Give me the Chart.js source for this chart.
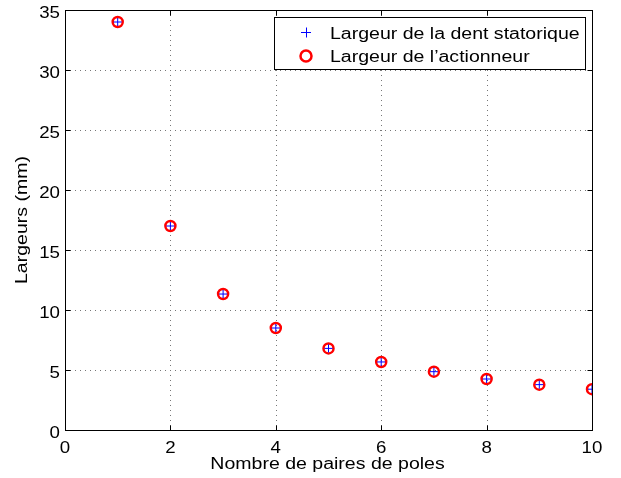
<!DOCTYPE html>
<html>
<head>
<meta charset="utf-8">
<script src="https://cdn.jsdelivr.net/npm/chart.js@4/dist/chart.umd.min.js"></script>
<style>
  html, body { margin: 0; padding: 0; background: #fff; }
  #wrap { width: 621px; height: 478px; }
</style>
</head>
<body>
<div id="wrap"><canvas id="chart"></canvas></div>
<script>
// Pole pairs and the resulting widths (mm)
const polePairs = [1, 2, 3, 4, 5, 6, 7, 8, 9, 10];
const toothWidth = [34, 17, 11.33, 8.5, 6.8, 5.67, 4.86, 4.25, 3.78, 3.4];
const actuatorWidth = [34, 17, 11.33, 8.5, 6.8, 5.67, 4.86, 4.25, 3.78, 3.4];
const xTicks = [0, 2, 4, 6, 8, 10];
const yTicks = [0, 5, 10, 15, 20, 25, 30, 35];
const xTitle = 'Nombre de paires de poles';
const yTitle = 'Largeurs (mm)';
const legendLabels = ['Largeur de la dent statorique', 'Largeur de l\u2019actionneur'];

const FONT = '"Liberation Sans", Arial, Helvetica, sans-serif';

// wide Helvetica-like text: regular glyphs stretched along the writing direction
function drawText(ctx, text, x, y, size, sx, align, angle) {
    ctx.save();
    ctx.translate(x, y);
    if (angle) ctx.rotate(angle);
    ctx.scale(sx, 1);
    ctx.font = size + 'px ' + FONT;
    ctx.fillStyle = '#000';
    ctx.textAlign = align;
    ctx.textBaseline = 'alphabetic';
    ctx.fillText(text, 0, 0);
    ctx.restore();
}

// dotted grid, box frame, inward ticks, labels and the boxed legend
const matlabAxes = {
    id: 'matlabAxes',
    beforeDatasetsDraw(chart) {
        const { ctx, chartArea: a, scales: { x, y } } = chart;
        ctx.save();
        ctx.strokeStyle = '#777';
        ctx.lineWidth = 1;
        ctx.setLineDash([1, 4]);
        xTicks.forEach(v => {
            const px = Math.round(x.getPixelForValue(v)) + 0.5;
            ctx.beginPath(); ctx.moveTo(px, a.top); ctx.lineTo(px, a.bottom); ctx.stroke();
        });
        yTicks.forEach(v => {
            const py = Math.round(y.getPixelForValue(v)) + 0.5;
            ctx.beginPath(); ctx.moveTo(a.left, py); ctx.lineTo(a.right, py); ctx.stroke();
        });
        ctx.setLineDash([]);
        ctx.strokeStyle = '#000';
        const L = Math.round(a.left) + 0.5, R = Math.round(a.right) + 0.5;
        const T = Math.round(a.top) + 0.5, B = Math.round(a.bottom) + 0.5;
        ctx.strokeRect(L, T, R - L, B - T);
        const tl = 5;
        ctx.beginPath();
        xTicks.forEach(v => {
            const px = Math.round(x.getPixelForValue(v)) + 0.5;
            ctx.moveTo(px, B); ctx.lineTo(px, B - tl);
            ctx.moveTo(px, T); ctx.lineTo(px, T + tl);
        });
        yTicks.forEach(v => {
            const py = Math.round(y.getPixelForValue(v)) + 0.5;
            ctx.moveTo(L, py); ctx.lineTo(L + tl, py);
            ctx.moveTo(R, py); ctx.lineTo(R - tl, py);
        });
        ctx.stroke();
        ctx.restore();

        // tick labels and axis titles
        xTicks.forEach(v => drawText(ctx, String(v), x.getPixelForValue(v), a.bottom + 23, 17, 1.1, 'center'));
        yTicks.forEach(v => drawText(ctx, String(v), a.left - 5, y.getPixelForValue(v) + 8, 17, 1.1, 'right'));
        drawText(ctx, xTitle, (a.left + a.right) / 2 - 1, 469, 16, 1.22, 'center');
        drawText(ctx, yTitle, 27, (a.top + a.bottom) / 2, 16, 1.22, 'center', -Math.PI / 2);
    },
    afterDatasetsDraw(chart) {
        const { ctx } = chart;
        ctx.save();
        const bx = 274.5, by = 17.5, bw = 311, bh = 52;
        ctx.fillStyle = '#fff';
        ctx.fillRect(bx, by, bw, bh);
        ctx.strokeStyle = '#000';
        ctx.lineWidth = 1;
        ctx.strokeRect(bx, by, bw, bh);
        // plus marker
        const mx = 306;
        ctx.strokeStyle = '#0000ff';
        ctx.beginPath();
        ctx.moveTo(mx - 5, 32.5); ctx.lineTo(mx + 5, 32.5);
        ctx.moveTo(mx + 0.5, 27.5); ctx.lineTo(mx + 0.5, 37.5);
        ctx.stroke();
        // circle marker
        ctx.strokeStyle = '#ff0000';
        ctx.lineWidth = 2.5;
        ctx.beginPath(); ctx.arc(mx, 56, 5.5, 0, Math.PI * 2); ctx.stroke();
        ctx.restore();
        drawText(ctx, legendLabels[0], 330, 38.5, 16, 1.22, 'left');
        drawText(ctx, legendLabels[1], 330, 61.5, 16, 1.22, 'left');
    }
};

new Chart(document.getElementById('chart'), {
    type: 'scatter',
    data: {
        datasets: [{
            label: legendLabels[0],
            data: polePairs.map((p, i) => ({ x: p, y: toothWidth[i] })),
            pointStyle: 'cross',
            pointRadius: 4,
            borderColor: '#0000ff',
            borderWidth: 1,
            order: 0
        }, {
            label: legendLabels[1],
            data: polePairs.map((p, i) => ({ x: p, y: actuatorWidth[i] })),
            pointStyle: 'circle',
            pointRadius: 5,
            borderColor: '#ff0000',
            backgroundColor: 'rgba(0,0,0,0)',
            borderWidth: 2.5,
            order: 1
        }]
    },
    options: {
        responsive: true,
        maintainAspectRatio: false,
        animation: false,
        layout: { padding: { top: 10, right: 29, left: 0, bottom: 0 } },
        plugins: {
            legend: { display: false },
            tooltip: { enabled: false }
        },
        scales: {
            x: {
                type: 'linear',
                min: 0,
                max: 10,
                afterBuildTicks: s => { s.ticks = xTicks.map(v => ({ value: v })); },
                afterFit: s => { s.height = 48; },
                grid: { display: false },
                border: { display: false },
                ticks: { display: false }
            },
            y: {
                type: 'linear',
                min: 0,
                max: 35,
                afterBuildTicks: s => { s.ticks = yTicks.map(v => ({ value: v })); },
                afterFit: s => { s.width = 65; },
                grid: { display: false },
                border: { display: false },
                ticks: { display: false }
            }
        }
    },
    plugins: [matlabAxes]
});
</script>
</body>
</html>
